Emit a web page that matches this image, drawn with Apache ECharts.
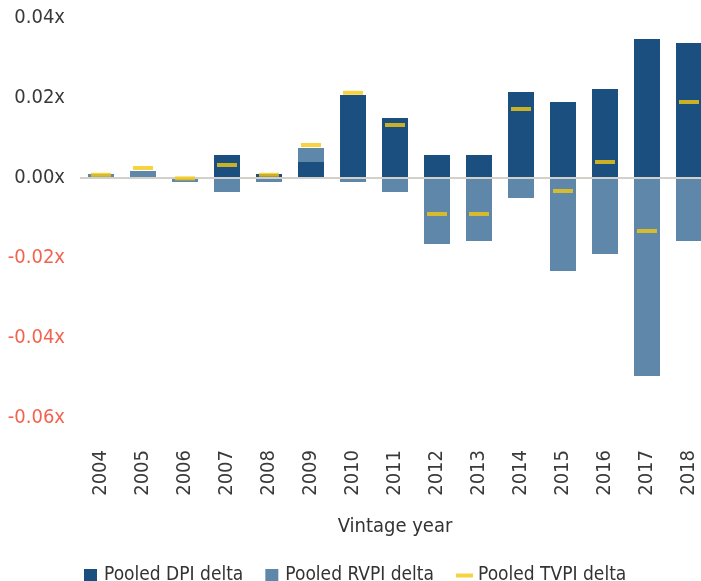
<!DOCTYPE html>
<html>
<head>
<meta charset="utf-8">
<script src="https://cdn.jsdelivr.net/npm/echarts@6/dist/echarts.min.js"></script>
<style>
  html, body { margin: 0; padding: 0; background: #fff; }
  #chart { width: 701px; height: 581px; }
</style>
</head>
<body>
<div id="chart"></div>
<script>
// vintage years
const years = ['2004', '2005', '2006', '2007', '2008', '2009', '2010', '2011', '2012', '2013', '2014', '2015', '2016', '2017', '2018'];
// pooled deltas (x)
const dpiDelta = [0, 0, 0, 0.00575, 0.001, 0.004, 0.02075, 0.015, 0.00575, 0.00575, 0.0215, 0.019, 0.02225, 0.03475, 0.03375];
const rvpiDelta = [0.001, 0.00175, -0.001, -0.0035, -0.001, 0.0035, -0.001, -0.0035, -0.0165, -0.01575, -0.005, -0.02325, -0.019, -0.0495, -0.01575];
const tvpiDelta = [0.0008, 0.0025, -0.0001, 0.00325, 0.0008, 0.00825, 0.0213, 0.01325, -0.009, -0.009, 0.01725, -0.00325, 0.004, -0.01325, 0.019];

const FONT = "'DejaVu Sans Condensed', 'Liberation Sans', sans-serif";
const DPI_COLOR = '#1a4f80';
const RVPI_COLOR = '#5f87a9';
const TVPI_COLOR = '#f5c810';

const chart = echarts.init(document.getElementById('chart'));

const option = {
  animation: false,
  grid: {
    left: 80,
    top: 18,
    width: 630,   // runs past the right edge, like the original
    height: 400,
    outerBoundsMode: 'none'
  },
  xAxis: {
    type: 'category',
    data: years,
    name: 'Vintage year',
    nameLocation: 'middle',
    nameGap: 99,
    nameTextStyle: { fontFamily: FONT, fontSize: 20, color: '#333' },
    axisLine: { show: false, onZero: false },
    axisTick: { show: false },
    axisLabel: {
      rotate: 90,
      margin: 32,
      fontFamily: FONT,
      fontSize: 20,
      color: '#3a3a3a'
    }
  },
  yAxis: {
    type: 'value',
    min: -0.06,
    max: 0.04,
    interval: 0.02,
    axisLine: { show: false },
    axisTick: { show: false },
    splitLine: { show: false },
    axisLabel: {
      margin: 15,
      fontFamily: FONT,
      fontSize: 20,
      formatter: v => v.toFixed(2) + 'x',
      color: v => (v < -1e-9 ? '#f26450' : '#3a3a3a')
    }
  },
  legend: {
    left: 79,
    top: 561,
    itemWidth: 17,
    itemHeight: 13,
    itemGap: 22,
    textStyle: { fontFamily: FONT, fontSize: 19, color: '#333' },
    data: [
      { name: 'Pooled DPI delta', icon: 'path://M0,0H13V13H0Z' },
      { name: 'Pooled RVPI delta', icon: 'path://M0,0H13V13H0Z' },
      { name: 'Pooled TVPI delta', icon: 'path://M0,0H17V4H0Z' }
    ]
  },
  series: [
    {
      name: 'Pooled DPI delta',
      type: 'bar',
      stack: 'pooled',
      barWidth: 26,
      itemStyle: { color: DPI_COLOR },
      data: dpiDelta,
      z: 2
    },
    {
      name: 'Pooled RVPI delta',
      type: 'bar',
      stack: 'pooled',
      barWidth: 26,
      itemStyle: { color: RVPI_COLOR },
      data: rvpiDelta,
      z: 2
    },
    {
      // zero line
      type: 'line',
      data: [],
      z: 3,
      silent: true,
      markLine: {
        silent: true,
        symbol: 'none',
        label: { show: false },
        lineStyle: { color: '#d3cfc9', width: 2, type: 'solid' },
        data: [{ yAxis: 0 }]
      }
    },
    {
      name: 'Pooled TVPI delta',
      type: 'scatter',
      symbol: 'rect',
      symbolSize: [20, 4],
      itemStyle: { color: TVPI_COLOR },
      data: tvpiDelta,
      z: 6
    }
  ]
};

chart.setOption(option);
</script>
</body>
</html>
